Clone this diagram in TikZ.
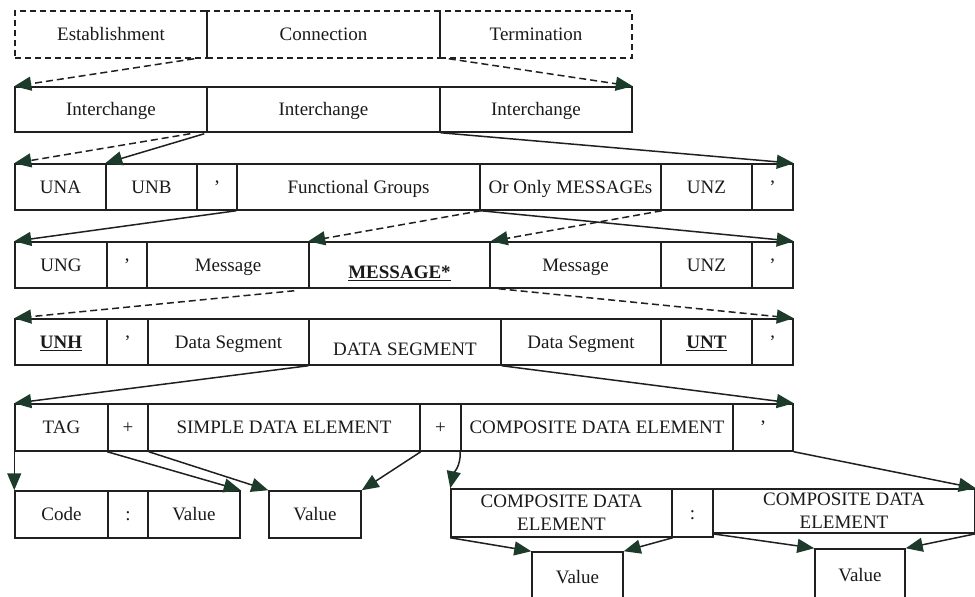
\documentclass[tikz,border=0pt]{standalone}
\usepackage{fontspec}
\setmainfont{Liberation Serif}
\usetikzlibrary{arrows.meta}
\definecolor{ln}{HTML}{202020}
\definecolor{ah}{HTML}{1C3B2B}
\definecolor{txt}{HTML}{1A1A1A}
\newcommand\cellbox[7][cell]{\node[#1,minimum width={(#4-#3)*1pt},minimum height={(#6-#5)*1pt}] (#2) at ({(#3+#4)/2},{(#5+#6)/2}) {#7};}
\tikzset{
  cbox/.style={draw=ln, line width=1.5pt, inner sep=0pt, text=txt, font=\fontsize{19}{22}\selectfont},
  cell/.style={cbox, text height=17pt, text depth=4.4pt},
  lowtext/.style={text height=31pt},
  twoline/.style={cbox, align=center, font=\fontsize{19}{23}\selectfont},
  dcell/.style={dash pattern=on 6pt off 4pt},
  link/.style={draw=ln, line width=1.5pt, -{Triangle[length=17pt,width=14pt,color=ah]}},
  dlink/.style={link, dash pattern=on 7pt off 4pt},
}
\begin{document}
\begin{tikzpicture}[x=1pt,y=-1pt]
\useasboundingbox (0,0) rectangle (975,597);
\clip (0,0) rectangle (975,597);
% row 0 (dashed)
\cellbox[cell,dcell]{est}{15}{207}{11}{58}{Establishment}
\cellbox[cell,dcell]{cnx}{207}{440}{11}{58}{Connection}
\cellbox[cell,dcell]{term}{440}{632}{11}{58}{Termination}
% row 1
\cellbox{ica}{15}{207}{87}{132}{Interchange}
\cellbox{icb}{207}{440}{87}{132}{Interchange}
\cellbox{icc}{440}{632}{87}{132}{Interchange}
% row 2
\cellbox{una}{15}{106}{164}{210}{UNA}
\cellbox{unb}{106}{197}{164}{210}{UNB}
\cellbox{qa}{197}{237}{164}{210}{’}
\cellbox{fg}{237}{480}{164}{210}{Functional Groups}
\cellbox{oom}{480}{661}{164}{210}{Or Only MESSAGEs}
\cellbox{unza}{661}{752}{164}{210}{UNZ}
\cellbox{qb}{752}{793}{164}{210}{’}
% row 3
\cellbox{ung}{15}{107}{242}{288}{UNG}
\cellbox{qc}{107}{147}{242}{288}{’}
\cellbox{msga}{147}{309}{242}{288}{Message}
\cellbox[cell,lowtext]{msgs}{309}{490}{242}{288}{\textbf{\underline{MESSAGE*}}}
\cellbox{msgb}{490}{661}{242}{288}{Message}
\cellbox{unzb}{661}{752}{242}{288}{UNZ}
\cellbox{qd}{752}{793}{242}{288}{’}
% row 4
\cellbox{unh}{15}{107}{319}{365}{\textbf{\underline{UNH}}}
\cellbox{qe}{107}{148}{319}{365}{’}
\cellbox{dsa}{148}{309}{319}{365}{Data Segment}
\cellbox[cell,lowtext]{dseg}{309}{501}{319}{365}{DATA SEGMENT}
\cellbox{dsb}{501}{661}{319}{365}{Data Segment}
\cellbox{unt}{661}{752}{319}{365}{\textbf{\underline{UNT}}}
\cellbox{qf}{752}{793}{319}{365}{’}
% row 5
\cellbox{tag}{15}{108}{404}{451}{TAG}
\cellbox{plusa}{108}{148}{404}{451}{+}
\cellbox{sde}{148}{420}{404}{451}{SIMPLE DATA ELEMENT}
\cellbox{plusb}{420}{461}{404}{451}{+}
\cellbox{comp}{461}{733}{404}{451}{COMPOSITE DATA ELEMENT}
\cellbox{qg}{733}{793}{404}{451}{’}
% row 6 left
\cellbox{code}{15}{108}{491}{538}{Code}
\cellbox{cola}{108}{148}{491}{538}{:}
\cellbox{vala}{148}{240}{491}{538}{Value}
\cellbox{valb}{269}{361}{491}{538}{Value}
% row 6 right
\cellbox[twoline]{cdea}{451}{672}{489}{537}{COMPOSITE DATA\\ELEMENT}
\cellbox{colb}{672}{713}{489}{537}{:}
\cellbox[twoline]{cdeb}{713}{975}{489}{533}{COMPOSITE DATA\\ELEMENT}
% row 7
\cellbox{valc}{532}{623}{552}{602}{Value}
\cellbox{vald}{815}{905}{549}{602}{Value}
% connectors
\draw[dlink] ([xshift=-12pt]cnx.south west) -- (ica.north west);
\draw[dlink] ([xshift=8pt]cnx.south east) -- (icc.north east);
\draw[dlink] ([xshift=-16pt,yshift=-1pt]icb.south west) -- (una.north west);
\draw[link] ([xshift=-2pt,yshift=-1pt]icb.south west) -- (unb.north west);
\draw[link] (icb.south east) -- (qb.north east);
\draw[link] (fg.south west) -- (ung.north west);
\draw[dlink] (fg.south east) -- (msgs.north west);
\draw[dlink] (oom.south east) -- (msgs.north east);
\draw[link] (fg.south east) -- (qd.north east);
\draw[dlink] ([xshift=-14pt,yshift=-2pt]msgs.south west) -- (unh.north west);
\draw[dlink] ([xshift=8pt]msgs.south east) -- (qf.north east);
\draw[link] (dseg.south west) -- (tag.north west);
\draw[link] (dseg.south east) -- (qg.north east);
\draw[link] (tag.south west) -- (code.north west);
\draw[link] (plusa.south west) -- (vala.north east);
\draw[link] (plusa.south east) -- (valb.north west);
\draw[link] (sde.south east) -- (valb.north east);
\draw[link] (comp.south west) to[out=-88,in=78] (cdea.north west);
\draw[link] (qg.south east) -- (cdeb.north east);
\draw[link] (cdea.south west) -- (valc.north west);
\draw[link] (cdea.south east) -- (valc.north east);
\draw[link] (cdeb.south west) -- (vald.north west);
\draw[link] (cdeb.south east) -- (vald.north east);
\end{tikzpicture}
\end{document}
